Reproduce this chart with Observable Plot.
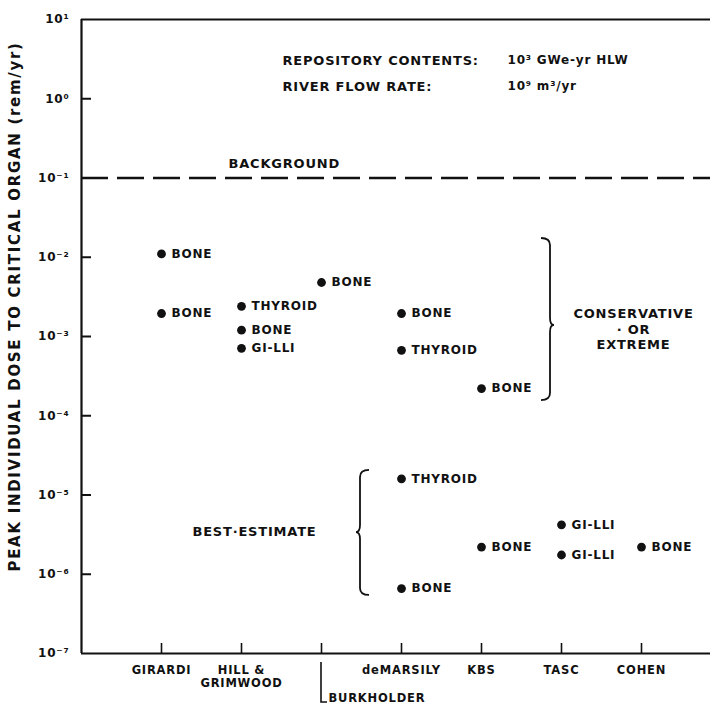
<!DOCTYPE html>
<html><head><meta charset="utf-8">
<script src="https://cdn.jsdelivr.net/npm/d3@7"></script>
<script src="https://cdn.jsdelivr.net/npm/@observablehq/plot@0.6"></script>
<style>
body{margin:0;background:#fff;}
#chart svg text{letter-spacing:0.8px;}
</style></head><body><div id="chart"></div>
<script>
// ---- data ----
const studies = ["GIRARDI", "HILL &\nGRIMWOOD", "BURKHOLDER", "deMARSILY", "KBS", "TASC", "COHEN"];
const studyPos = [1, 2, 3, 4, 5, 6, 7];
const pointStudy = [1, 1, 2, 2, 2, 3, 4, 4, 4, 4, 5, 5, 6, 6, 7];
const pointDose = [1.1e-2, 1.95e-3, 2.4e-3, 1.2e-3, 7.1e-4, 4.8e-3, 1.95e-3, 6.7e-4, 1.6e-5, 6.6e-7, 2.2e-4, 2.2e-6, 4.2e-6, 1.75e-6, 2.2e-6];
const pointOrgan = ["BONE", "BONE", "THYROID", "BONE", "GI-LLI", "BONE", "BONE", "THYROID", "THYROID", "BONE", "BONE", "BONE", "GI-LLI", "GI-LLI", "BONE"];
const yTicks = [10, 1, 0.1, 0.01, 1e-3, 1e-4, 1e-5, 1e-6, 1e-7];
const yTickLabels = ["10¹", "10⁰", "10⁻¹", "10⁻²", "10⁻³", "10⁻⁴", "10⁻⁵", "10⁻⁶", "10⁻⁷"];
const backgroundDose = 0.1;
const yTitle = "PEAK INDIVIDUAL DOSE TO CRITICAL ORGAN (rem/yr)";
const headerLabels = ["REPOSITORY CONTENTS:", "RIVER FLOW RATE:"];
const headerValues = ["10³ GWe-yr HLW", "10⁹ m³/yr"];
const groupLabels = ["CONSERVATIVE\n· OR\nEXTREME", "BEST·ESTIMATE"];

const points = pointStudy.map((s, i) => ({study: s, dose: pointDose[i], organ: pointOrgan[i]}));
const ink = "#111";

// braces drawn through the scales (data-space extents)
const braceSpecs = [
  {x: 5.8625, top: 0.01725, mid: 1.38e-3, bottom: 1.556e-4, dir: 1},
  {x: 3.4875, top: 2.04e-5, mid: 3.36e-6, bottom: 5.4e-7, dir: -1}
];
function braceMark(index, scales) {
  const g = d3.create("svg:g");
  for (const b of braceSpecs) {
    const x = scales.x(b.x), y1 = scales.y(b.top), ym = scales.y(b.mid), y2 = scales.y(b.bottom);
    const d = b.dir, w = 9, t = 4, r = 7;
    const p = `M${x - d*w},${y1} Q${x},${y1} ${x},${y1 + r} L${x},${ym - r} Q${x},${ym} ${x + d*t},${ym} Q${x},${ym} ${x},${ym + r} L${x},${y2 - r} Q${x},${y2} ${x - d*w},${y2}`;
    g.append("path").attr("d", p).attr("fill", "none").attr("stroke", ink).attr("stroke-width", 1.8);
  }
  return g.node();
}
function burkholderBracket(index, scales, values, dimensions) {
  const x = scales.x(3);
  const y0 = dimensions.height - dimensions.marginBottom;
  return d3.create("svg:path")
    .attr("d", `M${x},${y0 + 9} L${x},${y0 + 49} L${x + 6},${y0 + 49}`)
    .attr("fill", "none").attr("stroke", ink).attr("stroke-width", 1.6).node();
}

const bold = {fontWeight: "bold", fill: ink};

const chart = Plot.plot({
  width: 710,
  height: 708,
  marginLeft: 81,
  marginRight: 0,
  marginTop: 19,
  marginBottom: 55,
  style: {fontFamily: "DejaVu Sans", color: ink, background: "#fff"},
  x: {domain: [0, 7.8625], axis: null},
  y: {type: "log", domain: [1e-7, 10], axis: null},
  marks: [
    // frame
    Plot.ruleX([0], {stroke: ink, strokeWidth: 2.2}),
    Plot.ruleY([10, 1e-7], {stroke: ink, strokeWidth: 2.2}),
    // inward ticks
    Plot.tickY(yTicks.slice(1, -1), {y: d => d, insetRight: 619, stroke: ink, strokeWidth: 2}),
    Plot.tickX(studyPos, {x: d => d, insetTop: 624, stroke: ink, strokeWidth: 1.6}),
    // y tick labels
    Plot.text(yTicks, {y: d => d, text: (d, i) => yTickLabels[i], frameAnchor: "left", dx: -12, textAnchor: "end", fontSize: 12, ...bold}),
    // x labels
    Plot.text(studyPos.filter(d => d !== 3), {x: d => d, text: d => studies[d - 1], frameAnchor: "bottom", dy: 11, lineAnchor: "top", lineHeight: 1.15, fontSize: 11.5, ...bold}),
    Plot.text([3], {x: d => d, text: d => studies[d - 1], frameAnchor: "bottom", dx: 7, dy: 48, textAnchor: "start", fontSize: 11.5, ...bold}),
    burkholderBracket,
    // y title
    Plot.text([yTitle], {frameAnchor: "left", textAnchor: "middle", rotate: -90, dx: -66, dy: -30, fontSize: 15, ...bold}),
    // background line
    Plot.ruleY([backgroundDose], {stroke: ink, strokeWidth: 2.6, strokeDasharray: "27,9"}),
    Plot.text(["BACKGROUND"], {x: 1.8375, y: backgroundDose, dy: -14, textAnchor: "start", fontSize: 13, ...bold}),
    // header
    Plot.text(headerLabels, {x: 2.5125, y: (d, i) => [3.04, 1.43][i], text: d => d, textAnchor: "start", fontSize: 13, ...bold}),
    Plot.text(headerValues, {x: 5.325, y: (d, i) => [3.04, 1.43][i], text: d => d, textAnchor: "start", fontSize: 12, ...bold}),
    // group annotations
    braceMark,
    Plot.text([groupLabels[0]], {x: 6.9, y: 1.26e-3, lineHeight: 1.2, fontSize: 13, ...bold}),
    Plot.text([groupLabels[1]], {x: 2.1625, y: 3.46e-6, fontSize: 13, ...bold}),
    // data
    Plot.dot(points, {x: "study", y: "dose", r: 4.4, fill: ink, stroke: null}),
    Plot.text(points, {x: "study", y: "dose", text: "organ", dx: 10, textAnchor: "start", fontSize: 12, ...bold})
  ]
});
d3.select(chart).selectAll("text")
  .filter(function() { return this.textContent === yTitle; })
  .style("letter-spacing", "1.7px");
document.getElementById("chart").appendChild(chart);
</script>
</body></html>
